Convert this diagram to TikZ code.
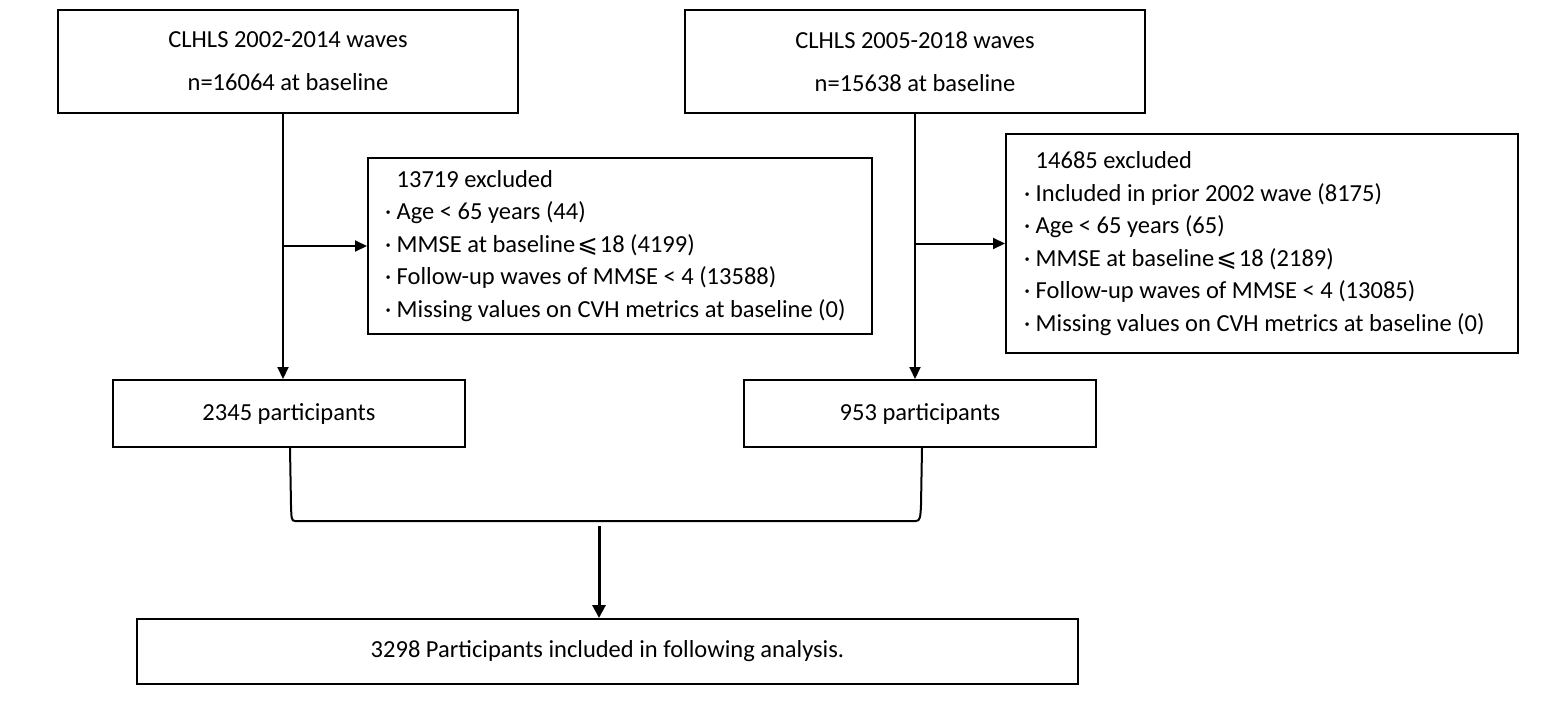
\documentclass[tikz,border=0pt]{standalone}
\usepackage{fontspec}
\setmainfont{Carlito}
\newfontfamily\symfont{DejaVu Sans}
\usetikzlibrary{arrows.meta,calc}
\newcommand{\leqslantsym}{\hspace{2pt}{\symfont ⩽}\hspace{2pt}}
\begin{document}
\begin{tikzpicture}[x=1pt,y=-1pt,
  box/.style={draw, line width=2pt, rectangle, inner sep=0pt, font=\fontsize{24.5}{32.5}\selectfont},
  listbox/.style={box, align=flush left, font=\fontsize{24.5}{32.5}\selectfont},
  arr/.style={line width=2pt, -{Triangle[length=12pt,width=11pt]}},
  bigarr/.style={line width=3pt, -{Triangle[length=13pt,width=13pt]}},
  bracket/.style={line width=2pt}]
\useasboundingbox (0,0) rectangle (1558,702);

\node[box, minimum width=460pt, minimum height=103pt, align=center, font=\fontsize{24.5}{43}\selectfont] (A) at (288,61.5) {CLHLS 2002-2014 waves\\n=16064 at baseline};
\node[box, minimum width=460pt, minimum height=103pt, align=center, font=\fontsize{24.5}{43}\selectfont] (B) at (915,61.5) {CLHLS 2005-2018 waves\\n=15638 at baseline};

\node[listbox, text width=470pt, inner xsep=17pt, minimum height=176pt] (C) at (620,246)
 {\phantom{· }13719 excluded\\
  · Age < 65 years (44)\\
  · MMSE at baseline\leqslantsym 18 (4199)\\
  · Follow-up waves of MMSE < 4 (13588)\\
  · Missing values on CVH metrics at baseline (0)};

\node[listbox, text width=476pt, inner xsep=18pt, minimum height=219pt] (D) at (1262,243.5)
 {\phantom{· }14685 excluded\\
  · Included in prior 2002 wave (8175)\\
  · Age < 65 years (65)\\
  · MMSE at baseline\leqslantsym 18 (2189)\\
  · Follow-up waves of MMSE < 4 (13085)\\
  · Missing values on CVH metrics at baseline (0)};

\node[box, minimum width=352pt, minimum height=67pt] (E) at (289,413.5) {2345 participants};
\node[box, minimum width=352pt, minimum height=67pt] (F) at (920,413.5) {953 participants};
\node[box, minimum width=941pt, minimum height=65pt] (G) at (607.5,651.5) {3298 Participants included in following analysis.};

\coordinate (a0) at ([xshift=-5pt]A.south);
\draw[arr] (a0) -- (a0 |- E.north);
\draw[arr] (a0 |- C.west) -- (C.west);
\draw[arr] (B.south) -- (B.south |- F.north);
\draw[arr] (B.south |- D.west) -- (D.west);

\coordinate (jl) at (295,521);
\coordinate (jr) at (916,521);
\draw[bracket] ([xshift=1pt]E.south) -- (291,505) .. controls +(0.5,12) and +(-4,0) .. (jl) -- (jr)
  .. controls +(4,0) and +(-0.5,12) .. (921,505) -- ([xshift=2pt]F.south);

\coordinate (m) at (599,526);
\draw[bigarr] (m) -- (m |- G.north);
\end{tikzpicture}
\end{document}
